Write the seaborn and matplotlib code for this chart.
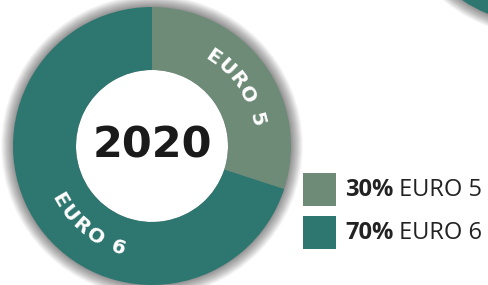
import numpy as np
import matplotlib
matplotlib.use("Agg")
import matplotlib.pyplot as plt
import seaborn as sns
from matplotlib.patches import Circle, Rectangle
from matplotlib.font_manager import FontProperties

# data
labels = ["EURO 5", "EURO 6"]
shares = [30, 70]
colors = ["#6e8b78", "#2e7670"]
year = "2020"

sns.set_theme(style="white")
plt.rcParams["font.family"] = ["DejaVu Sans"]

fig = plt.figure(figsize=(4.88, 2.85), dpi=100)
ax = fig.add_axes([0, 0, 1, 1])

cx, cy, r_out, r_in = 152, 139, 139, 76


# soft shadow behind both rings
def shadow(x, y, r):
    for k in range(24):
        ax.add_patch(Circle((x, y), r + 12 - k * 0.5, color="black",
                            alpha=0.018, lw=0, zorder=0))


shadow(cx, cy, r_out)
shadow(540, 400, r_out)
ax.add_patch(Circle((540, 400), r_out, color=colors[1], lw=0, zorder=1))

wedges, _ = ax.pie(shares, colors=colors, startangle=90, counterclock=False,
                   radius=r_out, center=(cx, cy),
                   wedgeprops=dict(width=r_out - r_in, linewidth=0))
ax.add_patch(Circle((cx, cy), r_in, color="white", lw=0, zorder=0.5))

ax.set_xlim(0, 488)
ax.set_ylim(0, 285)
ax.set_aspect("equal")
ax.axis("off")

ax.text(cx, cy, year, ha="center", va="center", fontsize=31,
        fontweight="heavy", color="#1a1a1a")

renderer = fig.canvas.get_renderer()


def arc_text(s, mid_deg, radius, outward, fp, track):
    def w(t):
        return renderer.get_text_width_height_descent(t, fp, ismath=False)[0]
    widths = [w("H" + ch + "H") - w("HH") + track for ch in s]
    total = sum(widths) - track
    pos = 0
    for ch, wi in zip(s, widths):
        c = pos + (wi - track) / 2 - total / 2
        pos += wi
        d = np.degrees(c / radius)
        if outward:
            th = mid_deg - d
            rot = th - 90
        else:
            th = mid_deg + d
            rot = th + 90
        x = cx + radius * np.cos(np.radians(th))
        y = cy + radius * np.sin(np.radians(th))
        ax.text(x, y, ch, rotation=rot, rotation_mode="anchor",
                ha="center", va="center", fontproperties=fp, color="white")


fp_arc = FontProperties(family="DejaVu Sans", weight="bold", size=14.5)
arc_text(labels[0], 35, 108, True, fp_arc, 1.5)
arc_text(labels[1], 231, 107, False, fp_arc, 1.5)

# legend
fp_b = FontProperties(family="Open Sans", weight="bold", size=17)
fp_r = FontProperties(family="Open Sans", size=17)
for i, (lab, sh, col) in enumerate(zip(labels, shares, colors)):
    ybot = 79 - i * 43
    ax.add_patch(Rectangle((303, ybot), 33, 33, color=col, lw=0))
    t = ax.text(345, ybot + 16, f"{sh}%", ha="left", va="center",
                fontproperties=fp_b, color="#222222")
    bb = t.get_window_extent(renderer)
    x1 = ax.transData.inverted().transform((bb.x1, bb.y0))[0]
    ax.text(x1, ybot + 16, " " + lab, ha="left", va="center",
            fontproperties=fp_r, color="#222222")

fig.savefig("out.png", dpi=100)
